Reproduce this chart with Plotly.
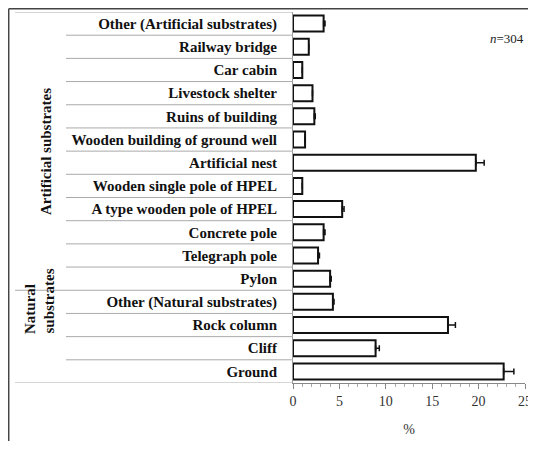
import plotly.graph_objects as go

categories = [
    "Other (Artificial substrates)", "Railway bridge", "Car cabin", "Livestock shelter",
    "Ruins of building", "Wooden building of ground well", "Artificial nest",
    "Wooden single pole of HPEL", "A type wooden pole of HPEL", "Concrete pole",
    "Telegraph pole", "Pylon", "Other (Natural substrates)", "Rock column", "Cliff", "Ground",
]
values = [3.3, 1.7, 1.0, 2.1, 2.3, 1.3, 19.7, 1.0, 5.3, 3.3, 2.7, 4.0, 4.3, 16.7, 8.9, 22.7]
errors = [0.15, 0.0, 0.0, 0.0, 0.1, 0.0, 0.9, 0.0, 0.2, 0.15, 0.15, 0.12, 0.12, 0.8, 0.4, 1.1]
x_ticks = [0, 5, 10, 15, 20, 25]

idx = list(range(len(categories)))
n = len(categories)
SERIF = "Liberation Serif"

# page body has an 8px margin: build the figure in page coordinates minus 8
OFF = 8
W, H = 536 - OFF, 449 - 2 * OFF
L = 293 - OFF
R = W - (525 - OFF)
T = 12 - OFF
B = H - (383 - OFF)
pw = W - L - R
ph = H - T - B

def px(xp):
    return (xp - OFF - L) / pw

def py(yp):
    return 1 - (yp - OFF - T) / ph

fig = go.Figure()
fig.add_trace(go.Bar(
    x=values, y=idx, orientation="h", width=0.69,
    marker=dict(color="white", line=dict(color="#111", width=2)),
    error_x=dict(type="data", symmetric=False, array=errors, arrayminus=[0] * n,
                 visible=True, color="#111", thickness=1.5, width=3),
    showlegend=False,
))

shapes = []
for k in range(n + 1):
    yv = k - 0.5
    long = k in (0, 12, n)
    shapes.append(dict(type="line", xref="paper", yref="y", x0=px(15 if long else 66), x1=0,
                       y0=yv, y1=yv, line=dict(color="#aaa", width=1)))
# outer frame (left and top edges)
shapes.append(dict(type="line", xref="paper", yref="paper", x0=px(8.7), x1=px(8.7),
                   y0=py(460), y1=py(8.7), line=dict(color="#444", width=1.5)))
shapes.append(dict(type="line", xref="paper", yref="paper", x0=px(8.7), x1=px(540),
                   y0=py(8.7), y1=py(8.7), line=dict(color="#444", width=1.5)))

annotations = [
    dict(text="<i>n</i>=304", xref="paper", yref="paper", x=px(526), y=py(38),
         xanchor="right", yanchor="middle", showarrow=False,
         font=dict(family=SERIF, size=13, color="#222")),
    dict(text="<b>Artificial substrates</b>", xref="paper", yref="paper", x=px(36),
         y=py(152), textangle=-90, showarrow=False,
         font=dict(family=SERIF, size=15, color="#111")),
    dict(text="<b>Natural</b>", xref="paper", yref="paper", x=px(20),
         y=py(336), textangle=-90, showarrow=False,
         font=dict(family=SERIF, size=15, color="#111")),
    dict(text="<b>substrates</b>", xref="paper", yref="paper", x=px(38),
         y=py(336), textangle=-90, showarrow=False,
         font=dict(family=SERIF, size=15, color="#111")),
]

fig.update_layout(
    width=W, height=H, margin=dict(l=L, r=R, t=T, b=B, autoexpand=False),
    paper_bgcolor="white", plot_bgcolor="white",
    shapes=shapes, annotations=annotations,
    xaxis=dict(range=[0, 25], tickvals=x_ticks, showgrid=False, zeroline=False,
               showline=True, linecolor="#888", linewidth=1,
               ticks="outside", ticklen=5, tickcolor="#888", ticklabeloverflow="allow",
               minor=dict(dtick=1, ticks="outside", ticklen=3, tickcolor="#aaa", showgrid=False),
               tickfont=dict(family=SERIF, size=14, color="#333"),
               title=dict(text="%", font=dict(family=SERIF, size=14, color="#333"), standoff=16)),
    yaxis=dict(range=[n - 0.5, -0.5], tickvals=idx, ticktext=categories, showgrid=False,
               zeroline=False, showline=True, linecolor="#999", linewidth=1,
               ticks="outside", ticklen=12, tickcolor="rgba(0,0,0,0)",
               tickfont=dict(family=SERIF, size=15, color="#111", weight="bold")),
)

fig.write_html("out.html")
